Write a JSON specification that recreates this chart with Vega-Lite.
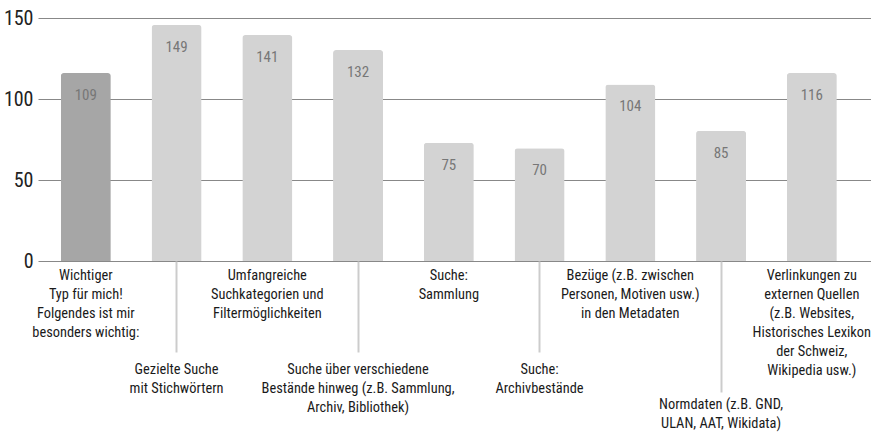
{
  "$schema": "https://vega.github.io/schema/vega-lite/v6.json",
  "autosize": "none",
  "width": 833,
  "height": 243,
  "padding": {"top": 18, "left": 38, "right": 0, "bottom": 175},
  "background": "white",
  "config": {"view": {"stroke": null}, "font": "Roboto Condensed, Noto Sans Condensed, Open Sans Condensed, DejaVu Sans Condensed, Liberation Sans Narrow, Arial Narrow, Roboto"},
  "data": {
    "values": [
      {"cat": "Wichtiger|Typ für mich!|Folgendes ist mir|besonders wichtig:", "value": 116, "label": "109", "kind": "typ"},
      {"cat": "Gezielte Suche|mit Stichwörtern", "value": 145.7, "label": "149", "kind": "merkmal"},
      {"cat": "Umfangreiche|Suchkategorien und|Filtermöglichkeiten", "value": 139.5, "label": "141", "kind": "merkmal"},
      {"cat": "Suche über verschiedene|Bestände hinweg (z.B. Sammlung,|Archiv, Bibliothek)", "value": 130.2, "label": "132", "kind": "merkmal"},
      {"cat": "Suche:|Sammlung", "value": 73, "label": "75", "kind": "merkmal"},
      {"cat": "Suche:|Archivbestände", "value": 69.6, "label": "70", "kind": "merkmal"},
      {"cat": "Bezüge (z.B. zwischen|Personen, Motiven usw.)|in den Metadaten", "value": 109, "label": "104", "kind": "merkmal"},
      {"cat": "Normdaten (z.B. GND,|ULAN, AAT, Wikidata)", "value": 80.4, "label": "85", "kind": "merkmal"},
      {"cat": "Verlinkungen zu|externen Quellen|(z.B. Websites,|Historisches Lexikon|der Schweiz,|Wikipedia usw.)", "value": 116, "label": "116", "kind": "merkmal"}
    ]
  },
  "encoding": {
    "x": {
      "field": "cat",
      "type": "nominal",
      "sort": null,
      "scale": {"paddingInner": 0.449, "paddingOuter": 0.314, "align": 0.4},
      "axis": {
        "title": null,
        "domain": false,
        "labelAngle": 0,
        "labelAlign": "center",
        "labelBaseline": "top",
        "labelExpr": "split(datum.value, '|')",
        "labelFontSize": 14.4,
        "labelLineHeight": 19,
        "labelColor": "#1a1a1a",
        "labelLimit": 0,
        "labelOverlap": false,
        "labelBound": false,
        "labelPadding": {
          "condition": [
            {"test": "indexof(datum.value, 'Normdaten') == 0", "value": 5},
            {"test": "indexof(datum.value, 'Gezielte') == 0 || indexof(datum.value, 'Suche über') == 0 || indexof(datum.value, 'Archivbest') >= 0", "value": 10}
          ],
          "value": 7
        },
        "ticks": true,
        "tickColor": "#cccccc",
        "tickWidth": 2,
        "tickSize": {
          "condition": [
            {"test": "indexof(datum.value, 'Normdaten') == 0", "value": 131},
            {"test": "indexof(datum.value, 'Gezielte') == 0 || indexof(datum.value, 'Suche über') == 0 || indexof(datum.value, 'Archivbest') >= 0", "value": 91}
          ],
          "value": 0
        }
      }
    },
    "y": {
      "field": "value",
      "type": "quantitative",
      "scale": {"domain": [0, 150], "nice": false},
      "axis": {
        "title": null,
        "values": [0, 50, 100, 150],
        "domain": false,
        "ticks": false,
        "grid": true,
        "gridColor": "#888888",
        "gridWidth": 1.2,
        "labelFontSize": 20,
        "labelColor": "#222222",
        "labelPadding": 5
      }
    }
  },
  "layer": [
    {
      "mark": {"type": "bar", "cornerRadiusTopLeft": 3, "cornerRadiusTopRight": 3},
      "encoding": {
        "color": {
          "field": "kind",
          "type": "nominal",
          "scale": {"domain": ["typ", "merkmal"], "range": ["#a6a6a6", "#d3d3d3"]},
          "legend": null
        }
      }
    },
    {
      "mark": {"type": "text", "baseline": "middle", "align": "center", "dy": 22, "fontSize": 15, "color": "#777777"},
      "encoding": {"text": {"field": "label"}}
    }
  ]
}
